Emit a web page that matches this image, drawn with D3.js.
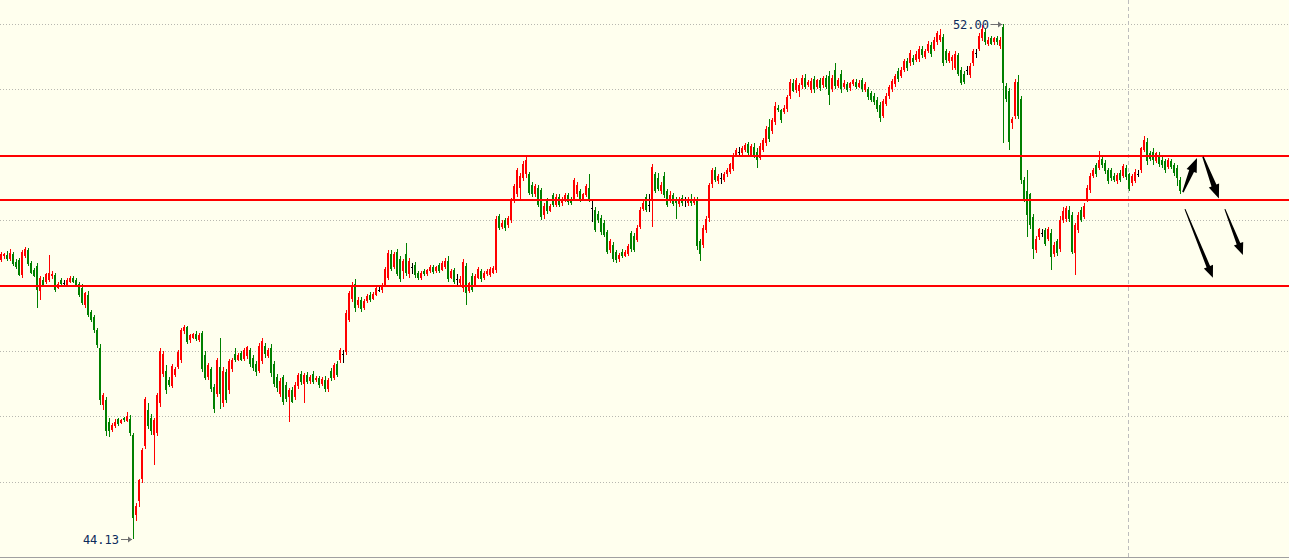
<!DOCTYPE html>
<html>
<head>
<meta charset="utf-8">
<script src="https://cdn.jsdelivr.net/npm/d3@7/dist/d3.min.js"></script>
<style>
  body { margin: 0; background: #ffffee; }
  svg { display: block; }
</style>
</head>
<body>
<div id="chart"></div>
<script>
// **** THE DATA ****
// candles, one per bar, left to right
const opens = [
  48.39,48.45,48.47,48.40,48.48,48.36,48.39,48.16,48.45,48.54,
  48.35,48.24,48.30,47.91,48.09,48.05,48.09,48.14,48.16,47.97,
  48.09,48.04,48.01,48.06,48.12,48.09,48.03,47.97,47.71,47.86,
  47.60,47.52,47.32,47.05,46.17,46.25,45.92,45.79,45.86,45.96,
  45.90,45.97,45.93,45.96,45.72,44.50,44.70,45.05,45.55,46.10,
  45.98,45.72,45.74,46.20,46.65,46.70,46.55,46.47,46.64,46.76,
  46.86,47.30,47.36,47.17,47.20,47.26,47.17,47.27,46.94,46.60,
  46.72,46.45,46.35,46.75,46.20,46.68,46.40,46.72,46.95,46.86,
  46.97,46.88,46.92,47.02,46.90,46.80,46.70,46.85,47.08,46.92,
  47.05,46.80,46.60,46.34,46.60,46.48,46.30,46.40,46.30,46.46,
  46.65,46.50,46.64,46.54,46.65,46.55,46.58,46.49,46.56,46.42,
  46.70,46.58,46.80,46.86,46.96,46.98,47.48,47.80,48.02,47.70,
  47.78,47.66,47.76,47.86,47.80,47.86,47.94,47.93,48.00,48.12,
  48.48,48.28,48.52,48.40,48.22,48.48,48.18,48.28,48.32,48.20,
  48.11,48.23,48.17,48.22,48.29,48.22,48.31,48.24,48.28,48.38,
  48.12,48.24,48.10,48.04,47.96,48.30,47.92,48.14,48.00,48.12,
  48.22,48.12,48.17,48.16,48.20,48.24,49.06,48.90,49.00,48.92,
  49.00,49.30,49.40,49.50,49.65,49.70,49.70,49.54,49.40,49.50,
  49.46,49.08,49.30,49.14,49.38,49.24,49.36,49.26,49.30,49.38,
  49.33,49.33,49.40,49.45,49.32,49.38,49.50,49.18,49.16,49.10,
  49.04,48.95,48.82,48.54,48.62,48.52,48.40,48.52,48.46,48.48,
  48.80,48.76,48.70,48.90,49.17,49.36,49.24,49.31,49.70,49.65,
  49.45,49.68,49.44,49.30,49.38,49.32,49.25,49.34,49.31,49.26,
  49.32,49.27,49.31,48.68,48.62,48.85,49.03,49.55,49.77,49.60,
  49.64,49.62,49.70,49.74,49.78,49.98,50.04,50.02,50.08,50.16,
  50.00,50.12,50.05,49.95,50.08,50.18,50.42,50.36,50.50,50.72,
  50.68,50.66,50.70,50.90,51.10,50.99,50.98,51.06,51.18,51.07,
  50.99,51.16,51.04,51.14,51.06,51.17,51.20,51.00,51.30,51.05,
  51.24,51.03,51.08,51.02,51.08,51.12,51.04,51.14,50.99,51.00,
  50.94,50.90,50.84,50.76,50.60,50.78,50.90,51.00,51.08,51.28,
  51.20,51.30,51.44,51.40,51.48,51.45,51.46,51.62,51.50,51.58,
  51.68,51.62,51.72,51.76,51.80,51.58,51.44,51.44,51.33,51.52,
  51.30,51.24,51.30,51.22,51.40,51.56,51.62,51.78,51.88,51.70,
  51.78,51.72,51.79,51.66,51.96,51.05,50.98,50.48,50.60,51.12,
  50.86,49.62,49.45,49.40,49.05,48.54,48.74,48.80,48.85,48.72,
  48.80,48.48,48.68,48.56,49.00,49.02,49.15,49.08,48.50,48.85,
  49.15,49.05,49.31,49.46,49.68,49.84,49.80,49.94,49.88,49.76,
  49.77,49.68,49.60,49.72,49.68,49.80,49.70,49.57,49.60,49.70,
  49.77,50.07,50.20,50.02,50.04,49.91,50.00,49.92,49.90,49.82,
  49.90,49.84,49.80,49.62
]
const highs = [
  48.52,48.50,48.53,48.56,48.52,48.40,48.42,48.55,48.59,48.58,
  48.38,48.27,48.34,48.14,48.13,48.20,48.47,48.22,48.20,48.06,
  48.12,48.08,48.12,48.15,48.15,48.12,48.06,48.02,47.90,47.92,
  47.63,47.55,47.35,47.10,46.36,46.30,45.98,45.90,45.96,45.98,
  45.96,45.99,46.07,46.02,45.75,44.68,45.05,45.52,46.30,46.20,
  46.03,45.98,46.36,47.05,47.00,46.78,46.60,46.80,46.76,47.02,
  47.35,47.40,47.38,47.26,47.28,47.30,47.27,47.30,47.00,46.82,
  46.76,46.50,46.90,47.20,46.75,46.72,46.88,46.90,47.05,46.97,
  47.00,47.04,47.08,47.05,46.94,46.85,47.12,47.20,47.12,47.05,
  47.10,46.85,46.65,46.58,46.63,46.52,46.44,46.45,46.52,46.66,
  46.70,46.66,46.68,46.64,46.70,46.62,46.62,46.60,46.62,46.58,
  46.74,46.82,46.84,47.04,47.02,47.62,47.92,48.05,48.10,47.82,
  47.82,47.80,47.87,47.90,47.90,48.00,48.00,48.04,48.28,48.55,
  48.55,48.52,48.56,48.45,48.40,48.65,48.42,48.34,48.36,48.22,
  48.23,48.26,48.26,48.32,48.32,48.30,48.34,48.38,48.42,48.45,
  48.26,48.27,48.18,48.14,48.40,48.35,48.06,48.20,48.18,48.28,
  48.26,48.22,48.26,48.28,48.30,49.06,49.10,49.00,49.04,49.06,
  49.34,49.56,49.80,49.72,49.90,49.98,49.74,49.58,49.56,49.54,
  49.50,49.26,49.34,49.25,49.42,49.40,49.40,49.35,49.42,49.42,
  49.36,49.65,49.58,49.48,49.42,49.56,49.70,49.31,49.20,49.14,
  49.08,49.00,48.85,48.72,48.66,48.55,48.50,48.56,48.54,48.64,
  48.84,48.80,48.92,49.20,49.30,49.40,49.40,49.86,49.74,49.72,
  49.58,49.74,49.48,49.44,49.41,49.36,49.36,49.38,49.36,49.36,
  49.40,49.35,49.36,48.72,48.92,49.06,49.57,49.80,49.82,49.70,
  49.72,49.74,49.80,49.88,50.02,50.10,50.12,50.14,50.18,50.20,
  50.17,50.18,50.10,50.18,50.26,50.44,50.55,50.56,50.80,50.76,
  50.70,50.76,50.92,51.16,51.16,51.18,51.10,51.22,51.24,51.14,
  51.18,51.20,51.16,51.18,51.20,51.22,51.28,51.22,51.40,51.18,
  51.30,51.14,51.12,51.12,51.16,51.16,51.14,51.18,51.12,51.04,
  50.98,50.94,50.88,50.80,50.86,50.94,51.06,51.16,51.24,51.32,
  51.34,51.46,51.48,51.60,51.52,51.58,51.66,51.66,51.62,51.74,
  51.72,51.80,51.90,51.93,51.85,51.62,51.58,51.52,51.58,51.56,
  51.34,51.28,51.36,51.40,51.62,51.62,51.86,51.98,51.93,51.80,
  51.82,51.80,51.82,51.80,52.00,51.10,51.02,50.58,51.16,51.22,
  50.90,49.66,49.77,49.42,49.10,48.76,48.88,48.86,48.88,48.90,
  48.86,48.66,48.72,49.06,49.20,49.22,49.22,49.12,48.96,49.12,
  49.20,49.26,49.54,49.72,49.80,49.88,50.06,49.98,49.92,49.80,
  49.80,49.72,49.72,49.76,49.86,49.84,49.72,49.70,49.78,49.76,
  50.12,50.28,50.25,50.06,50.10,50.04,50.04,49.96,49.94,49.95,
  49.94,49.88,49.84,49.66
]
const lows = [
  48.36,48.40,48.38,48.37,48.30,48.25,48.14,48.12,48.42,48.30,
  48.17,48.13,47.66,47.78,47.98,48.02,48.05,48.10,47.90,47.95,
  48.00,47.98,47.99,48.04,48.04,47.98,47.83,47.70,47.66,47.52,
  47.44,47.28,47.05,46.18,46.10,45.70,45.69,45.76,45.82,45.85,
  45.88,45.92,45.91,45.70,44.13,44.40,44.62,44.98,45.50,45.80,
  45.72,45.26,45.70,46.15,46.60,46.35,46.45,46.44,46.60,46.72,
  46.82,47.26,47.10,47.12,47.18,47.15,47.14,46.68,46.55,46.55,
  46.38,46.05,46.30,46.12,46.15,46.20,46.35,46.68,46.83,46.84,
  46.84,46.85,46.88,46.76,46.70,46.62,46.66,46.80,46.90,46.90,
  46.60,46.45,46.38,46.30,46.17,46.22,45.92,46.20,46.25,46.42,
  46.48,46.20,46.50,46.50,46.50,46.52,46.44,46.46,46.38,46.38,
  46.54,46.55,46.60,46.82,46.82,46.94,47.44,47.75,47.60,47.66,
  47.60,47.62,47.73,47.75,47.78,47.84,47.90,47.88,47.98,48.08,
  48.22,48.25,48.14,48.06,48.10,48.14,48.12,48.18,48.12,48.08,
  48.08,48.14,48.15,48.20,48.18,48.20,48.20,48.22,48.25,48.06,
  48.10,48.03,48.00,48.01,47.90,47.70,47.88,47.90,47.98,48.10,
  48.06,48.09,48.14,48.13,48.18,48.20,48.85,48.86,48.84,48.88,
  48.96,49.26,49.36,49.30,49.60,49.65,49.38,49.36,49.36,49.20,
  49.00,49.02,49.10,49.12,49.20,49.20,49.20,49.22,49.28,49.24,
  49.24,49.30,49.35,49.28,49.30,49.35,49.28,48.98,48.82,48.96,
  48.78,48.75,48.48,48.50,48.36,48.35,48.36,48.42,48.43,48.45,
  48.52,48.52,48.66,48.86,49.14,49.12,49.12,48.90,49.42,49.44,
  49.40,49.34,49.20,49.26,49.22,49.02,49.20,49.22,49.20,49.22,
  49.22,49.24,48.55,48.38,48.58,48.80,48.98,49.50,49.58,49.56,
  49.55,49.58,49.66,49.70,49.75,49.96,49.98,49.98,50.05,49.98,
  49.97,49.95,49.80,49.92,50.04,50.14,50.20,50.32,50.46,50.66,
  50.48,50.63,50.66,50.86,50.96,50.95,50.88,51.00,51.00,51.03,
  50.94,50.95,51.00,50.98,51.02,51.00,50.76,50.96,51.00,51.02,
  50.95,51.00,50.96,50.98,51.05,51.00,51.02,50.96,50.96,50.84,
  50.80,50.76,50.66,50.50,50.56,50.74,50.86,50.96,51.04,51.12,
  51.17,51.26,51.28,51.36,51.38,51.42,51.42,51.48,51.46,51.55,
  51.50,51.58,51.68,51.72,51.36,51.40,51.40,51.30,51.30,51.20,
  51.06,51.08,51.22,51.18,51.36,51.48,51.58,51.74,51.68,51.66,
  51.68,51.68,51.68,51.62,50.18,50.80,50.07,50.40,50.55,50.55,
  49.55,49.28,48.75,48.86,48.40,48.50,48.70,48.74,48.60,48.68,
  48.24,48.44,48.46,48.52,48.96,48.98,48.98,48.48,48.16,48.80,
  48.98,49.02,49.28,49.42,49.64,49.66,49.76,49.80,49.70,49.56,
  49.60,49.58,49.56,49.58,49.64,49.62,49.44,49.53,49.57,49.66,
  49.72,50.04,49.85,49.90,49.84,49.88,49.82,49.80,49.72,49.78,
  49.78,49.68,49.52,49.40
]
const closes = [
  48.49,48.48,48.40,48.50,48.33,48.29,48.16,48.52,48.56,48.33,
  48.20,48.15,47.93,48.12,48.01,48.17,48.19,48.18,47.94,48.03,
  48.03,48.04,48.09,48.12,48.06,48.00,47.86,47.74,47.88,47.55,
  47.47,47.32,47.09,46.25,46.33,45.78,45.77,45.87,45.92,45.88,
  45.94,45.94,46.01,45.74,44.45,44.63,45.03,45.48,46.27,45.85,
  45.78,45.95,46.33,47.00,46.95,46.40,46.48,46.77,46.73,46.99,
  47.32,47.36,47.14,47.24,47.26,47.18,47.24,46.72,46.59,46.79,
  46.42,46.12,46.86,46.35,46.70,46.25,46.84,46.86,46.86,46.94,
  46.87,47.01,47.06,46.80,46.74,46.68,47.08,47.15,46.95,47.02,
  46.66,46.50,46.43,46.54,46.22,46.26,46.40,46.22,46.48,46.63,
  46.52,46.63,46.53,46.61,46.52,46.59,46.48,46.57,46.42,46.56,
  46.58,46.79,46.64,47.01,46.96,47.58,47.88,48.00,47.66,47.78,
  47.64,47.77,47.84,47.78,47.87,47.96,47.94,48.01,48.25,48.50,
  48.26,48.48,48.18,48.10,48.37,48.20,48.38,48.28,48.16,48.11,
  48.20,48.17,48.24,48.29,48.21,48.28,48.23,48.34,48.38,48.10,
  48.22,48.06,48.10,48.10,48.36,47.88,48.04,47.94,48.15,48.25,
  48.10,48.19,48.23,48.25,48.27,49.02,48.88,48.96,48.88,49.03,
  49.30,49.52,49.76,49.68,49.86,49.92,49.42,49.40,49.52,49.24,
  49.05,49.22,49.14,49.22,49.23,49.36,49.24,49.32,49.39,49.28,
  49.27,49.62,49.54,49.31,49.40,49.52,49.32,49.18,48.85,49.00,
  48.82,48.78,48.52,48.68,48.40,48.39,48.47,48.45,48.51,48.61,
  48.56,48.55,48.88,49.16,49.26,49.16,49.24,49.82,49.45,49.48,
  49.54,49.38,49.24,49.39,49.25,49.26,49.33,49.27,49.31,49.33,
  49.27,49.31,48.60,48.48,48.88,49.02,49.54,49.76,49.61,49.67,
  49.64,49.70,49.77,49.86,50.00,50.07,50.04,50.10,50.15,50.02,
  50.14,50.00,49.92,50.14,50.23,50.40,50.24,50.53,50.74,50.68,
  50.53,50.72,50.89,51.12,50.98,51.14,51.06,51.18,51.04,51.12,
  51.13,51.00,51.14,51.02,51.17,51.04,50.92,51.18,51.05,51.15,
  51.00,51.10,50.99,51.10,51.14,51.04,51.10,51.00,51.08,50.88,
  50.84,50.80,50.70,50.56,50.82,50.90,51.03,51.13,51.20,51.16,
  51.30,51.43,51.32,51.56,51.42,51.54,51.62,51.52,51.59,51.70,
  51.54,51.76,51.86,51.83,51.40,51.45,51.55,51.49,51.54,51.24,
  51.10,51.12,51.30,51.36,51.58,51.56,51.82,51.93,51.72,51.76,
  51.70,51.78,51.72,51.76,51.10,50.85,50.20,50.54,51.12,50.60,
  49.62,49.31,49.08,48.92,48.56,48.72,48.86,48.80,48.63,48.86,
  48.44,48.62,48.50,49.00,49.14,49.18,49.02,48.52,48.92,49.08,
  49.00,49.22,49.50,49.68,49.77,49.70,49.92,49.84,49.75,49.60,
  49.64,49.61,49.69,49.62,49.83,49.66,49.48,49.67,49.74,49.70,
  50.10,50.22,49.90,49.94,49.92,50.02,49.86,49.84,49.76,49.92,
  49.82,49.72,49.64,49.44
]

// horizontal price grid and the three drawn support / resistance levels
const gridPrices = [45, 46, 47, 48, 49, 50, 51, 52]
const levelPrices = [49.98, 49.31, 48.00]
// session divider sits between two bars
const dividerIndex = 375.5

// hand-drawn arrows: start and end as [bar, price]
const arrowFrom = [[393.8, 49.43], [400.5, 49.97], [394.5, 49.17], [407.8, 49.17]]
const arrowTo   = [[398.5, 49.95], [405.8, 49.33], [403.8, 48.12], [413.8, 48.47]]
const arrowFat  = [true, true, false, false]

// **** THE SETUP ****
const width = 1289
const height = 560
const plotBottom = 557

const candles = d3.range(opens.length).map(i => ({
  i: i, o: opens[i], h: highs[i], l: lows[i], c: closes[i]
}))

// one bar every 3px
const xScale = d3.scaleLinear()
  .domain([0, candles.length - 1])
  .range([1.5, 1.5 + 3 * (candles.length - 1)])

const yScale = d3.scaleLinear()
  .domain([52.367 - plotBottom / 65.4, 52.367])
  .range([plotBottom, 0])

const svg = d3.select("#chart").append("svg")
  .attr("width", width)
  .attr("height", height)

svg.append("rect")
  .attr("width", width).attr("height", height)
  .attr("fill", "#ffffee")

// --> GRID
svg.append("g").selectAll("line")
  .data(gridPrices)
  .enter().append("line")
  .attr("x1", 0).attr("x2", width)
  .attr("y1", d => Math.round(yScale(d)) + 0.5)
  .attr("y2", d => Math.round(yScale(d)) + 0.5)
  .attr("stroke", "#b8b8b0")
  .attr("stroke-dasharray", "1,2")

svg.append("line")
  .attr("x1", Math.round(xScale(dividerIndex)) + 0.5)
  .attr("x2", Math.round(xScale(dividerIndex)) + 0.5)
  .attr("y1", 0).attr("y2", plotBottom)
  .attr("stroke", "#bdbdbd")
  .attr("stroke-dasharray", "4,3")

svg.append("line")
  .attr("x1", 0).attr("x2", width)
  .attr("y1", plotBottom + 0.5).attr("y2", plotBottom + 0.5)
  .attr("stroke", "#a0a0a0")

// --> CANDLES
const colorOf = d => d.c > d.o ? "#ff0000" : (d.c < d.o ? "#008000" : "#000000")

const bars = svg.append("g").attr("shape-rendering", "crispEdges")
  .selectAll("g")
  .data(candles)
  .enter().append("g")

bars.append("line")
  .attr("x1", d => Math.floor(xScale(d.i)) + 0.5)
  .attr("x2", d => Math.floor(xScale(d.i)) + 0.5)
  .attr("y1", d => yScale(d.h))
  .attr("y2", d => yScale(d.l))
  .attr("stroke", colorOf)

bars.append("rect")
  .attr("x", d => Math.floor(xScale(d.i)) - 1)
  .attr("width", 2)
  .attr("y", d => yScale(Math.max(d.o, d.c)))
  .attr("height", d => Math.max(1, Math.abs(yScale(d.o) - yScale(d.c))))
  .attr("fill", colorOf)

// --> LEVEL LINES
svg.append("g").attr("shape-rendering", "crispEdges")
  .selectAll("line")
  .data(levelPrices)
  .enter().append("line")
  .attr("x1", 0).attr("x2", width)
  .attr("y1", d => Math.round(yScale(d)))
  .attr("y2", d => Math.round(yScale(d)))
  .attr("stroke", "#ff0000")
  .attr("stroke-width", 2)

// --> HIGH / LOW MARKERS
const hiBar = candles[d3.maxIndex(candles, d => d.h)]
const loBar = candles[d3.minIndex(candles, d => d.l)]

function marker(bar, price) {
  const x = Math.floor(xScale(bar.i)) - 1
  const y = Math.round(yScale(price)) + 0.5
  const g = svg.append("g")
  g.append("line")
    .attr("x1", x - 11).attr("x2", x)
    .attr("y1", y).attr("y2", y)
    .attr("stroke", "#707070")
  g.append("path")
    .attr("d", `M${x},${y} l-4,-3 l0,6 z`)
    .attr("fill", "#707070")
  g.append("text")
    .attr("x", x - 13)
    .attr("y", y)
    .attr("dy", "0.36em")
    .attr("text-anchor", "end")
    .attr("font-family", "DejaVu Sans Mono, monospace")
    .attr("font-size", 12)
    .attr("fill", "#0c2c5c")
    .text(price.toFixed(2))
}
marker(hiBar, hiBar.h)
marker(loBar, loBar.l)

// --> ARROWS
function arrowPath(a, b, fat) {
  const x0 = xScale(a[0]), y0 = yScale(a[1])
  const x1 = xScale(b[0]), y1 = yScale(b[1])
  const len = Math.hypot(x1 - x0, y1 - y0)
  const ux = (x1 - x0) / len, uy = (y1 - y0) / len
  const nx = -uy, ny = ux
  const headL = fat ? 14 : 12
  const headW = fat ? 5.5 : 5
  const tailW = fat ? 0.8 : 0.5
  const neckW = fat ? 2.6 : 1.9
  const bx = x1 - ux * headL, by = y1 - uy * headL
  const pts = [
    [x0 + nx * tailW, y0 + ny * tailW],
    [bx + nx * neckW, by + ny * neckW],
    [bx + nx * headW, by + ny * headW],
    [x1, y1],
    [bx - nx * headW, by - ny * headW],
    [bx - nx * neckW, by - ny * neckW],
    [x0 - nx * tailW, y0 - ny * tailW]
  ]
  return "M" + pts.map(p => p[0].toFixed(1) + "," + p[1].toFixed(1)).join("L") + "Z"
}

svg.append("g").selectAll("path")
  .data(arrowFrom)
  .enter().append("path")
  .attr("d", (d, i) => arrowPath(d, arrowTo[i], arrowFat[i]))
  .attr("fill", "#000")
</script>
</body>
</html>
